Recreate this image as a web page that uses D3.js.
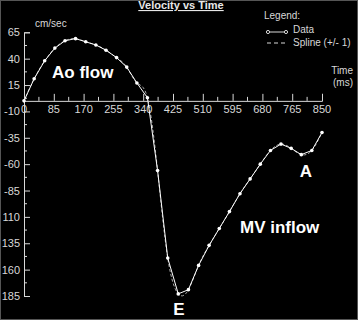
<!DOCTYPE html>
<html>
<head>
<meta charset="utf-8">
<script src="https://cdn.jsdelivr.net/npm/d3@7"></script>
<style>
  body { margin: 0; background: #000; }
  svg { display: block; font-family: "Liberation Sans", Arial, sans-serif; }
</style>
</head>
<body>
<script>
// Time stamps (ms) and velocities (cm/sec)
const timeMs = [0, 29, 59, 88, 117, 147, 176, 205, 234, 264, 293, 322, 352, 381, 410,
                440, 469, 498, 528, 557, 586, 616, 645, 674, 703, 733, 762, 791, 821, 850];
const velocity = [0, 21, 38, 50, 57, 59, 56, 53, 48, 41, 32, 17, 3, -66, -149,
                  -183, -179, -156, -137, -121, -105, -88, -74, -60, -47, -41, -45, -51, -47, -30];

// Axis ticks and their labels as printed
const xTicks = [0, 85, 170, 255, 340, 425, 510, 595, 680, 765, 850];
const yTicks = [65, 40, 15, -10, -35, -60, -85, -110, -135, -160, -185];
const yTickLabels = ["65", "40", "15", "-10", "-35", "-60", "-85", "110", "135", "160", "185"];

const w = 358;
const h = 320;

const svg = d3.select("body")
  .append("svg")
  .attr("width", w)
  .attr("height", h);

// Background with a thin frame
svg.append("rect")
  .attr("x", 0.5).attr("y", 0.5)
  .attr("width", w - 1).attr("height", h - 1)
  .attr("fill", "#000")
  .attr("stroke", "#555");

// Scales
const xScale = d3.scaleLinear().domain([0, 850]).range([24, 322]);
const yScale = d3.scaleLinear().domain([65, -185]).range([32.3, 296]);

const axisColor = "#d8d8d8";

// Minor ticks half way between the major ones
const xMinor = d3.range(42.5, 850, 85);
const yMinor = d3.range(52.5, -185, -25);

// X axis sits at velocity 0, ticks pointing up
const xAxis = svg.append("g")
  .attr("transform", `translate(0,${yScale(0)})`)
  .call(d3.axisTop(xScale).tickValues(xTicks).tickSize(7).tickFormat(""));
xAxis.select(".domain").attr("stroke", axisColor);
xAxis.selectAll(".tick line").attr("stroke", axisColor);

svg.append("g")
  .attr("transform", `translate(0,${yScale(0)})`)
  .selectAll("line")
  .data(xMinor)
  .enter()
  .append("line")
  .attr("x1", d => xScale(d)).attr("x2", d => xScale(d))
  .attr("y1", 0).attr("y2", -4)
  .attr("stroke", axisColor);

svg.append("g")
  .selectAll("text")
  .data(xTicks)
  .enter()
  .append("text")
  .attr("x", d => xScale(d))
  .attr("y", yScale(0) + 12)
  .attr("text-anchor", "middle")
  .attr("font-size", 11)
  .attr("fill", axisColor)
  .text(d => d);

// Y axis, ticks pointing right
const yAxis = svg.append("g")
  .attr("transform", `translate(${xScale(0)},0)`)
  .call(d3.axisRight(yScale).tickValues(yTicks).tickSize(6).tickFormat(""));
yAxis.select(".domain").attr("stroke", axisColor);
yAxis.selectAll(".tick line").attr("stroke", axisColor);

svg.append("g")
  .attr("transform", `translate(${xScale(0)},0)`)
  .selectAll("line")
  .data(yMinor)
  .enter()
  .append("line")
  .attr("x1", 0).attr("x2", 3)
  .attr("y1", d => yScale(d)).attr("y2", d => yScale(d))
  .attr("stroke", axisColor);

svg.append("g")
  .selectAll("text")
  .data(yTicks)
  .enter()
  .append("text")
  .attr("x", 20)
  .attr("y", d => yScale(d) + 4)
  .attr("text-anchor", "end")
  .attr("font-size", 11)
  .attr("fill", axisColor)
  .text((d, i) => yTickLabels[i]);

// Data as [t, v] pairs
const points = timeMs.map((t, i) => [t, velocity[i]]);

// Dashed spline
const spline = d3.line()
  .x(d => xScale(d[0]))
  .y(d => yScale(d[1]))
  .curve(d3.curveNatural);

svg.append("path")
  .datum(points)
  .attr("d", spline)
  .attr("fill", "none")
  .attr("stroke", "#aaa")
  .attr("stroke-width", 1)
  .attr("stroke-dasharray", "3,2");

// Solid data line with dots
const dataLine = d3.line()
  .x(d => xScale(d[0]))
  .y(d => yScale(d[1]));

svg.append("path")
  .datum(points)
  .attr("d", dataLine)
  .attr("fill", "none")
  .attr("stroke", "#fff")
  .attr("stroke-width", 1);

svg.selectAll(".dot")
  .data(points)
  .enter()
  .append("circle")
  .attr("class", "dot")
  .attr("cx", d => xScale(d[0]))
  .attr("cy", d => yScale(d[1]))
  .attr("r", 1.8)
  .attr("fill", "#fff");

// Title
svg.append("text")
  .attr("x", 181).attr("y", 9)
  .attr("text-anchor", "middle")
  .attr("font-size", 11)
  .attr("font-weight", "bold")
  .attr("text-decoration", "underline")
  .attr("fill", "#e8e8e8")
  .text("Velocity vs Time");

// Axis units
svg.append("text")
  .attr("x", 35).attr("y", 27)
  .attr("font-size", 10)
  .attr("fill", axisColor)
  .text("cm/sec");

svg.append("text")
  .attr("x", 353).attr("y", 74)
  .attr("text-anchor", "end")
  .attr("font-size", 10)
  .attr("fill", axisColor)
  .text("Time");

svg.append("text")
  .attr("x", 353).attr("y", 86)
  .attr("text-anchor", "end")
  .attr("font-size", 10)
  .attr("fill", axisColor)
  .text("(ms)");

// Legend
svg.append("text")
  .attr("x", 264).attr("y", 19)
  .attr("font-size", 10)
  .attr("fill", axisColor)
  .text("Legend:");

svg.append("line")
  .attr("x1", 268).attr("x2", 286)
  .attr("y1", 32).attr("y2", 32)
  .attr("stroke", axisColor);

svg.selectAll(".legend-dot")
  .data([268, 286])
  .enter()
  .append("circle")
  .attr("class", "legend-dot")
  .attr("cx", d => d).attr("cy", 32)
  .attr("r", 1.6)
  .attr("fill", "#000")
  .attr("stroke", axisColor);

svg.append("text")
  .attr("x", 293).attr("y", 33)
  .attr("font-size", 10)
  .attr("fill", axisColor)
  .text("Data");

svg.append("line")
  .attr("x1", 267).attr("x2", 287)
  .attr("y1", 43).attr("y2", 43)
  .attr("stroke", axisColor)
  .attr("stroke-dasharray", "4,3");

svg.append("text")
  .attr("x", 293).attr("y", 46)
  .attr("font-size", 10)
  .attr("fill", axisColor)
  .text("Spline (+/- 1)");

// Annotations
const notes = [
  { text: "Ao flow", x: 52, y: 78, anchor: "start" },
  { text: "MV inflow", x: 240, y: 233, anchor: "start" },
  { text: "E", x: 179, y: 315, anchor: "middle" },
  { text: "A", x: 306, y: 177, anchor: "middle" }
];

svg.selectAll(".note")
  .data(notes)
  .enter()
  .append("text")
  .attr("class", "note")
  .attr("x", d => d.x)
  .attr("y", d => d.y)
  .attr("text-anchor", d => d.anchor)
  .attr("font-size", 17)
  .attr("font-weight", "bold")
  .attr("fill", "#fff")
  .text(d => d.text);
</script>
</body>
</html>
